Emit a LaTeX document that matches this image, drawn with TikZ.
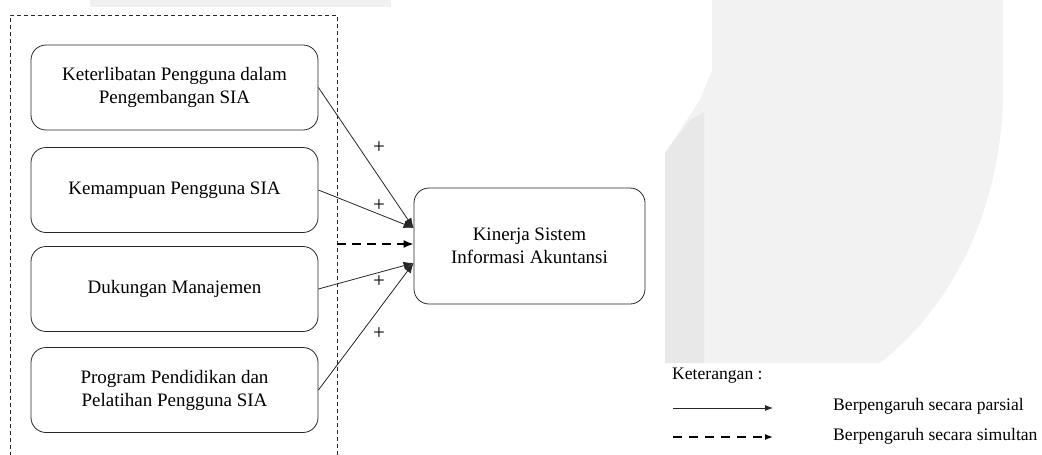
\documentclass[tikz,border=0pt]{standalone}
\usepackage{fontspec}
\setmainfont{Liberation Serif}
\usetikzlibrary{arrows.meta,calc}

\tikzset{
  varbox/.style={draw=black!85, line width=0.8pt, rounded corners=15pt,
    minimum width=287pt, minimum height=85pt, align=center,
    font=\fontsize{19}{23}\selectfont, inner sep=2pt},
  partial/.style={draw=black!85, line width=0.8pt, -{Latex[length=10pt,width=8pt]}},
  simult/.style={draw=black, line width=1.6pt, dash pattern=on 9pt off 6pt,
    -{Latex[length=10pt,width=8pt]}},
  plus/.style={font=\fontsize{21}{21}\selectfont, inner sep=0pt},
  legtext/.style={anchor=west, font=\fontsize{17.6}{20}\selectfont, inner sep=0pt}
}

\begin{document}
\begin{tikzpicture}[x=1pt,y=-1pt]
\useasboundingbox (0,0) rectangle (1042,455);
\clip (0,0) rectangle (1042,455);

% faint background shapes
\fill[black!6] (90,0) rectangle (391,7);
\fill[black!5] (712,0) -- (1003,0) -- (1003,100)
  .. controls (1000,200) and (960,300) .. (880,363)
  -- (665,363) -- (665,153) -- (700,100) -- (712,70) -- cycle;
\fill[black!9] (665,153) -- (690,120) -- (704,112) -- (704,363) -- (665,363) -- cycle;

% dashed frame around the independent variables
\draw[black!85, line width=0.8pt, dash pattern=on 4pt off 3pt]
  (10,470) -- (10,15) -- (337,15) -- (337,470);
\coordinate (frame) at (337,244);

% variables
\node[varbox] (x1) at (174.5,87.5) {Keterlibatan Pengguna dalam\\Pengembangan SIA};
\node[varbox] (x2) at (174.5,190) {Kemampuan Pengguna SIA};
\node[varbox] (x3) at (174.5,289) {Dukungan Manajemen};
\node[varbox] (x4) at (174.5,390) {Program Pendidikan dan\\Pelatihan Pengguna SIA};
\node[varbox, minimum width=231pt, minimum height=116pt] (y) at (529.5,246)
  {Kinerja Sistem\\Informasi Akuntansi};

\coordinate (t1) at ([yshift=18pt]y.west);
\coordinate (t2) at ([yshift=-17pt]y.west);

% partial effects
\draw[partial] (x1.east) -- (t1);
\draw[partial] (x2.east) -- (t1);
\draw[partial] (x3.east) -- (t2);
\draw[partial] (x4.east) -- (t2);

% simultaneous effect
\draw[simult] (frame) -- (y.west |- frame);

% signs
\node[plus] (p1) at (379,148) {+};
\node[plus] (p2) at (379,206) {+};
\node[plus] (p3) at (379,282) {+};
\node[plus] (p4) at (379,334) {+};

% legend
\node[legtext] (ket) at (672,376) {Keterangan :};
\coordinate (la) at (673,408);
\coordinate (lb) at (773,408);
\coordinate (lc) at (673,437);
\coordinate (ld) at (773,437);
\draw[partial, -{Latex[length=8pt,width=6pt]}] (la) -- (lb);
\draw[simult, line width=1.4pt, dash pattern=on 9pt off 7pt,
  -{Latex[length=8pt,width=6pt]}] (lc) -- (ld);
\node[legtext] (lt1) at (833,406) {Berpengaruh secara parsial};
\node[legtext] (lt2) at (833,436) {Berpengaruh secara simultan};
\end{tikzpicture}
\end{document}
